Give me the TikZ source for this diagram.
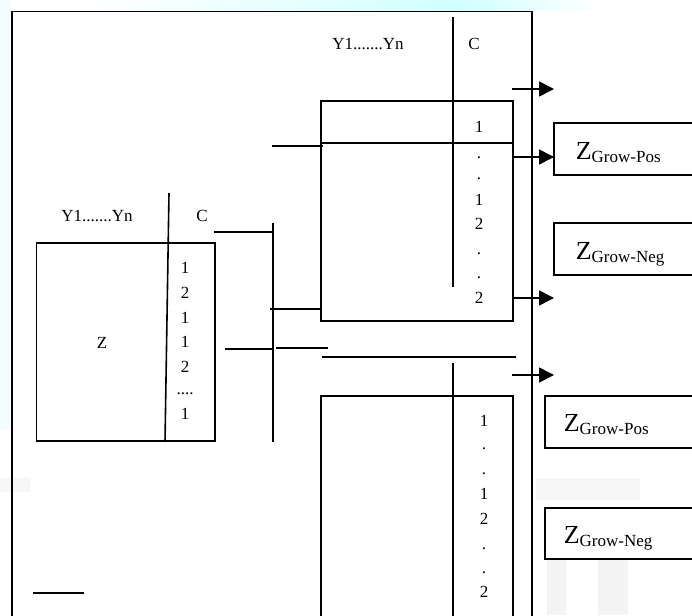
\documentclass[tikz,border=0pt]{standalone}
\usepackage{fontspec}
\setmainfont{Liberation Serif}
\usetikzlibrary{arrows.meta}
\newcommand\mydt{.}
\newcommand\mydts{....}
\begin{document}
\begin{tikzpicture}[x=1pt,y=-1pt,line width=1.6pt,
  lbl/.style={font=\fontsize{17}{17}\selectfont,inner sep=0pt,anchor=base},
  zlbl/.style={font=\fontsize{26}{26}\selectfont,inner sep=0pt,anchor=base west},
  arr/.style={-{Triangle[length=15pt,width=15pt]}}]
\useasboundingbox (0,0) rectangle (692,615);
\clip (0,0) rectangle (692,615);
% faint background
\shade[left color=white,right color=cyan!18,draw=none] (90,0) rectangle (460,11);
\shade[left color=cyan!18,right color=white,draw=none] (460,0) rectangle (600,11);
\fill[cyan!4] (0,0) rectangle (11,430);
\fill[gray!6] (0,478) rectangle (30,492);
\fill[blue!3!gray!7] (536,478) rectangle (640,500);
\fill[blue!4!gray!8] (547,560) rectangle (566,615);
\fill[blue!4!gray!8] (598,560) rectangle (628,615);
% named points
\coordinate (ftl) at (12,11.5); \coordinate (ftr) at (532,11.5);
\coordinate (fbl) at (12,640); \coordinate (fbr) at (532,640);
% outer frame
\draw (fbl) -- (ftl) -- (ftr) -- (fbr);
% top column divider
\draw (453,17) coordinate (tc1) -- (453,287) coordinate (tc2);
\node[lbl] (ytop) at (368,50) {Y1.......Yn};
\node[lbl] (ctop) at (474,50) {C};
% upper box
\draw (321,101) coordinate (ub1) rectangle (513,321) coordinate (ub2);
\draw (321,143) coordinate (ul1) -- (513,143) coordinate (ul2);
\draw (272,146) coordinate (us1) -- (323,146) coordinate (us2);
\foreach \t/\yy [count=\i] in {1/132,\mydt/158,\mydt/179,1/205,2/229,\mydt/254,\mydt/278,2/303}
  \node[lbl] (un\i) at (479,\yy) {\t};
% arrows
\coordinate (a1s) at (512,89);  \coordinate (a1e) at (554,89);
\coordinate (a2s) at (513,157); \coordinate (a2e) at (554,157);
\coordinate (a3s) at (513,298); \coordinate (a3e) at (554,298);
\coordinate (a4s) at (512,375); \coordinate (a4e) at (554,375);
\draw[arr] (a1s) -- (a1e);
\draw[arr] (a2s) -- (a2e);
\draw[arr] (a3s) -- (a3e);
\draw[arr] (a4s) -- (a4e);
% Z boxes
\draw (554,123) coordinate (zp1) rectangle (720,175);
\draw (554,223) coordinate (zn1) rectangle (720,275);
\draw (545,396) coordinate (zp2) rectangle (720,448);
\draw (545,508) coordinate (zn2) rectangle (720,559);
\node[zlbl] (zpt1) at (575,159.5) {Z\raisebox{-3pt}{\fontsize{17}{17}\selectfont Grow-Pos}};
\begin{scope}
\clip (554,223) rectangle (720,266);
\node[zlbl] (znt1) at (575,259.5) {Z\raisebox{-3pt}{\fontsize{17}{17}\selectfont Grow-Neg}};
\end{scope}
\node[zlbl] (zpt2) at (563,431.5) {Z\raisebox{-3pt}{\fontsize{17}{17}\selectfont Grow-Pos}};
\begin{scope}
\clip (545,508) rectangle (720,550);
\node[zlbl] (znt2) at (563,543.5) {Z\raisebox{-3pt}{\fontsize{17}{17}\selectfont Grow-Neg}};
\end{scope}
% left table
\node[lbl] (yleft) at (97,221) {Y1.......Yn};
\node[lbl] (cleft) at (202,221) {C};
\draw (36.5,243) coordinate (lb1) rectangle (215,441) coordinate (lb2);
\draw (169,193) coordinate (lc1) -- (165,442) coordinate (lc2);
\node[lbl] (zl) at (102,348) {Z};
\foreach \t/\yy [count=\i] in {1/273,2/298,1/323,1/347,2/372,\mydts/394,1/419}
  \node[lbl] (ln\i) at (185,\yy) {\t};
% connectors
\draw (214,232) coordinate (cl1) -- (273,232) coordinate (cl2);
\draw (273,223) coordinate (vb1) -- (273,442) coordinate (vb2);
\draw (270,309) coordinate (m1) -- (321,309) coordinate (m2);
\draw (225,349) coordinate (m3) -- (274,349) coordinate (m4);
\draw (276,348) coordinate (m5) -- (328,348) coordinate (m6);
\draw (322,357) coordinate (m7) -- (516,357) coordinate (m8);
% lower column and box
\draw (453,363) coordinate (lcol1) -- (453,640) coordinate (lcol2);
\draw (321,640) -- (321,396) coordinate (lbx1) -- (513,396) coordinate (lbx2) -- (513,640);
\foreach \t/\yy [count=\i] in {1/426,\mydt/449,\mydt/474,1/499,2/524,\mydt/549,\mydt/573,2/597}
  \node[lbl] (dn\i) at (484,\yy) {\t};
% short line bottom-left
\draw (33,593) coordinate (sl1) -- (84,593) coordinate (sl2);
\end{tikzpicture}
\end{document}
